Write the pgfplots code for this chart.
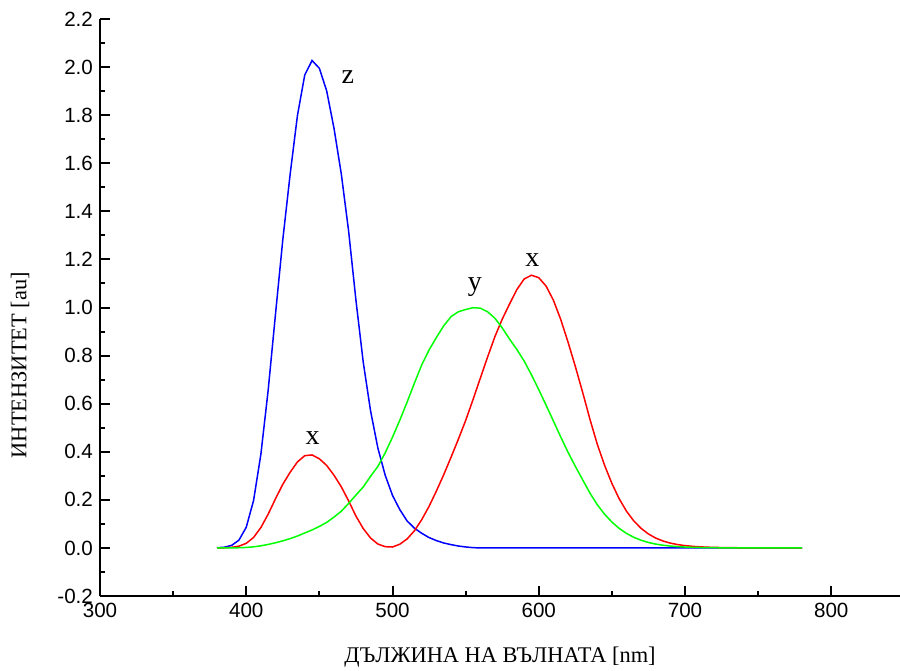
\documentclass[border=0pt]{standalone}
\usepackage{fontspec}
\setmainfont{Liberation Serif}
\newfontfamily\arialfont{Liberation Sans}
\usepackage{pgfplots}
\pgfplotsset{compat=1.18}
\usepackage{pgfplotstable}

% CIE 1964 10 deg colour matching functions, 5 nm steps
\pgfplotstableread{
lambda x y z
380 0.000160 0.000017 0.000705
385 0.000662 0.000072 0.002928
390 0.002362 0.000253 0.010482
395 0.007242 0.000769 0.032344
400 0.019110 0.002004 0.086011
405 0.043400 0.004509 0.197120
410 0.084736 0.008756 0.389366
415 0.140638 0.014456 0.656760
420 0.204492 0.021391 0.972542
425 0.264737 0.029497 1.282500
430 0.314679 0.038676 1.553480
435 0.357719 0.049602 1.798500
440 0.383734 0.062077 1.967280
445 0.386726 0.074704 2.027300
450 0.370702 0.089456 1.994800
455 0.342957 0.106256 1.900700
460 0.302273 0.128201 1.745370
465 0.254085 0.152761 1.554900
470 0.195618 0.185190 1.317560
475 0.132349 0.219940 1.030200
480 0.080507 0.253589 0.772125
485 0.041072 0.297665 0.570060
490 0.016172 0.339133 0.415254
495 0.005132 0.395379 0.302356
500 0.003816 0.460777 0.218502
505 0.015444 0.531360 0.159249
510 0.037465 0.606741 0.112044
515 0.071358 0.685660 0.082248
520 0.117749 0.761757 0.060709
525 0.172953 0.823330 0.043050
530 0.236491 0.875211 0.030451
535 0.304213 0.923810 0.020584
540 0.376772 0.961988 0.013676
545 0.451584 0.982200 0.007918
550 0.529826 0.991761 0.003988
555 0.616053 0.999110 0.001091
560 0.705224 0.997340 0
565 0.793832 0.982380 0
570 0.878655 0.955552 0
575 0.951162 0.915175 0
580 1.014160 0.868934 0
585 1.074300 0.825623 0
590 1.118520 0.777405 0
595 1.134300 0.720353 0
600 1.123990 0.658341 0
605 1.089100 0.593878 0
610 1.030480 0.527963 0
615 0.950740 0.461834 0
620 0.856297 0.398057 0
625 0.754930 0.339554 0
630 0.647467 0.283493 0
635 0.535110 0.228254 0
640 0.431567 0.179828 0
645 0.343690 0.140211 0
650 0.268329 0.107633 0
655 0.204300 0.081187 0
660 0.152568 0.060281 0
665 0.112210 0.044096 0
670 0.081261 0.031800 0
675 0.057930 0.022602 0
680 0.040851 0.015905 0
685 0.028623 0.011130 0
690 0.019941 0.007749 0
695 0.013842 0.005375 0
700 0.009577 0.003718 0
705 0.006605 0.002565 0
710 0.004553 0.001768 0
715 0.003145 0.001222 0
720 0.002175 0.000846 0
725 0.001506 0.000586 0
730 0.001045 0.000407 0
735 0.000727 0.000284 0
740 0.000508 0.000199 0
745 0.000356 0.000140 0
750 0.000251 0.000098 0
755 0.000178 0.000070 0
760 0.000126 0.000050 0
765 0.000090 0.000036 0
770 0.000065 0.000025 0
775 0.000046 0.000018 0
780 0.000033 0.000013 0
}\cmf

\begin{document}
\begin{tikzpicture}
\path[use as bounding box] (-50pt,-37pt) rectangle (400pt,298pt);
\begin{axis}[
    at={(0,0)}, anchor=south west,
    scale only axis, width=400pt, height=288.5pt,
    xmin=300, xmax=847, ymin=-0.2, ymax=2.2,
    axis x line=bottom, axis y line=left,
    axis line style={-, line width=1pt},
    tick align=inside,
    major tick length=5pt, minor tick length=2.5pt,
    every tick/.style={black, line width=1pt},
    xtick={300,400,500,600,700,800},
    ytick={-0.2,0,0.2,0.4,0.6,0.8,1.0,1.2,1.4,1.6,1.8,2.0,2.2},
    minor x tick num=1, minor y tick num=1,
    /pgf/number format/assume math mode=true,
    ticklabel style={font=\arialfont\fontsize{10.3}{12}\selectfont},
    yticklabel style={/pgf/number format/.cd, fixed, fixed zerofill, precision=1},
    xticklabel style={/pgf/number format/.cd, fixed, precision=0, 1000 sep={}},
    label style={font=\fontsize{11.2}{13}\selectfont},
    xlabel={ДЪЛЖИНА НА ВЪЛНАТА [nm]},
    ylabel={ИНТЕНЗИТЕТ [au]},
    xlabel style={at={(axis description cs:0.5,-0.106)}, anchor=center},
    ylabel style={at={(axis description cs:-0.1,0.40)}, anchor=center, rotate=0},
    clip=false,
]
\addplot[color={rgb,255:red,0;green,0;blue,255}, line width=0.75pt] table[x=lambda, y=z] {\cmf};
\addplot[color={rgb,255:red,255;green,0;blue,0}, line width=0.75pt] table[x=lambda, y=x] {\cmf};
\addplot[color={rgb,255:red,0;green,255;blue,0}, line width=0.75pt] table[x=lambda, y=y] {\cmf};
\node[font=\fontsize{14}{16}\selectfont] at (axis cs:469.5,1.958) {z};
\node[font=\fontsize{14}{16}\selectfont] at (axis cs:556.3,1.083) {y};
\node[font=\fontsize{14}{16}\selectfont] at (axis cs:595.7,1.197) {x};
\node[font=\fontsize{14}{16}\selectfont] at (axis cs:445.3,0.457) {x};
\end{axis}
\end{tikzpicture}
\end{document}
